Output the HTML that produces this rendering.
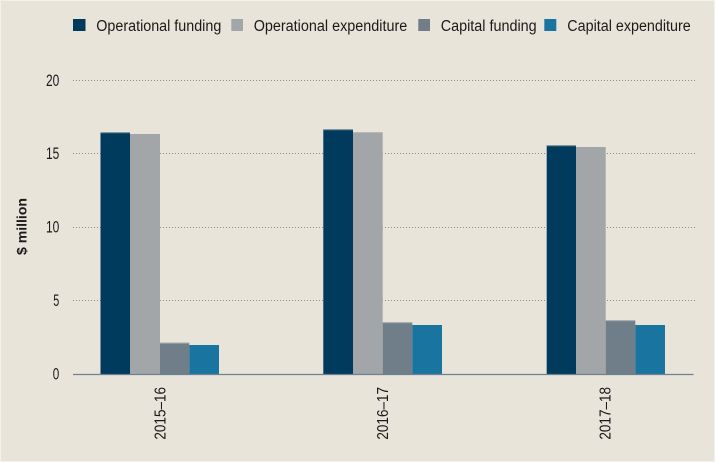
<!DOCTYPE html>
<html><head><meta charset="utf-8"><style>
html,body{margin:0;padding:0;background:#e8e4d9;}
svg{display:block;}
text{font-family:"Liberation Sans",sans-serif;fill:#1a1a1a;}
</style></head><body>
<svg width="715" height="462" viewBox="0 0 715 462" xmlns="http://www.w3.org/2000/svg">
<rect x="0" y="0" width="715" height="462" fill="#e8e4d9"/>
<rect x="0.5" y="0.5" width="714" height="461" fill="none" stroke="#f3f1ec" stroke-width="1"/>
<!-- legend -->
<rect x="73" y="19" width="12.5" height="12" fill="#003a5c"/>
<text x="96.3" y="31" font-size="15.5" textLength="125" lengthAdjust="spacingAndGlyphs">Operational funding</text>
<rect x="231.3" y="19" width="11.7" height="12" fill="#a3a6a9"/>
<text x="253.7" y="31" font-size="15.5" textLength="153.6" lengthAdjust="spacingAndGlyphs">Operational expenditure</text>
<rect x="418.3" y="19" width="11.7" height="12" fill="#6f7e88"/>
<text x="440.7" y="31" font-size="15.5" textLength="96" lengthAdjust="spacingAndGlyphs">Capital funding</text>
<rect x="544.3" y="19" width="12" height="12" fill="#1a74a0"/>
<text x="567.3" y="31" font-size="15.5" textLength="123.4" lengthAdjust="spacingAndGlyphs">Capital expenditure</text>
<!-- gridlines -->
<g stroke="#8a8a88" stroke-width="1" stroke-dasharray="1 2">
<line x1="73" y1="80.5" x2="696" y2="80.5"/>
<line x1="73" y1="153.5" x2="696" y2="153.5"/>
<line x1="73" y1="227.5" x2="696" y2="227.5"/>
<line x1="73" y1="300.5" x2="696" y2="300.5"/>
</g>
<!-- y tick labels -->
<g font-size="16.5" text-anchor="end">
<text x="59.3" y="86" textLength="13.3" lengthAdjust="spacingAndGlyphs">20</text>
<text x="59.3" y="159" textLength="13.3" lengthAdjust="spacingAndGlyphs">15</text>
<text x="59.3" y="232.5" textLength="13.3" lengthAdjust="spacingAndGlyphs">10</text>
<text x="59.3" y="306" textLength="6" lengthAdjust="spacingAndGlyphs">5</text>
<text x="59.3" y="379.5" textLength="6.5" lengthAdjust="spacingAndGlyphs">0</text>
</g>
<text transform="translate(26.5,226.5) rotate(-90)" font-size="14" font-weight="bold" text-anchor="middle" textLength="57" lengthAdjust="spacingAndGlyphs">$ million</text>
<!-- bars group 1 -->
<rect x="100.5" y="132.3" width="29.5" height="241.7" fill="#003a5c"/>
<rect x="130" y="134" width="30" height="240" fill="#a3a6a9"/>
<rect x="160" y="342.7" width="29.3" height="31.3" fill="#6f7e88"/>
<rect x="189.3" y="345" width="29.7" height="29" fill="#1a74a0"/>
<!-- group 2 -->
<rect x="323.3" y="129.3" width="29.7" height="244.7" fill="#003a5c"/>
<rect x="353" y="132.3" width="29.7" height="241.7" fill="#a3a6a9"/>
<rect x="382.7" y="322.3" width="29.6" height="51.7" fill="#6f7e88"/>
<rect x="412.3" y="325" width="29.7" height="49" fill="#1a74a0"/>
<!-- group 3 -->
<rect x="546.7" y="145.3" width="29.3" height="228.7" fill="#003a5c"/>
<rect x="576" y="147" width="29.7" height="227" fill="#a3a6a9"/>
<rect x="605.7" y="320.3" width="29.6" height="53.7" fill="#6f7e88"/>
<rect x="635.3" y="325" width="29.7" height="49" fill="#1a74a0"/>
<!-- light top edges -->
<g stroke="#b9bcbd" stroke-width="1" opacity="0.6">
<line x1="100.5" y1="132.8" x2="130" y2="132.8"/>
<line x1="160" y1="343.2" x2="189.3" y2="343.2"/>
<line x1="323.3" y1="129.8" x2="353" y2="129.8"/>
<line x1="382.7" y1="322.8" x2="412.3" y2="322.8"/>
<line x1="546.7" y1="145.8" x2="576" y2="145.8"/>
<line x1="605.7" y1="320.8" x2="635.3" y2="320.8"/>
</g>
<!-- baseline -->
<line x1="73" y1="374.5" x2="693.5" y2="374.5" stroke="#6d8193" stroke-width="1.3"/>
<!-- category labels -->
<g font-size="16" text-anchor="end">
<text transform="translate(165.5,387) rotate(-90)" textLength="52.6" lengthAdjust="spacingAndGlyphs">2015–16</text>
<text transform="translate(388,387) rotate(-90)" textLength="52.6" lengthAdjust="spacingAndGlyphs">2016–17</text>
<text transform="translate(610.5,387) rotate(-90)" textLength="52.6" lengthAdjust="spacingAndGlyphs">2017–18</text>
</g>
</svg>
</body></html>
